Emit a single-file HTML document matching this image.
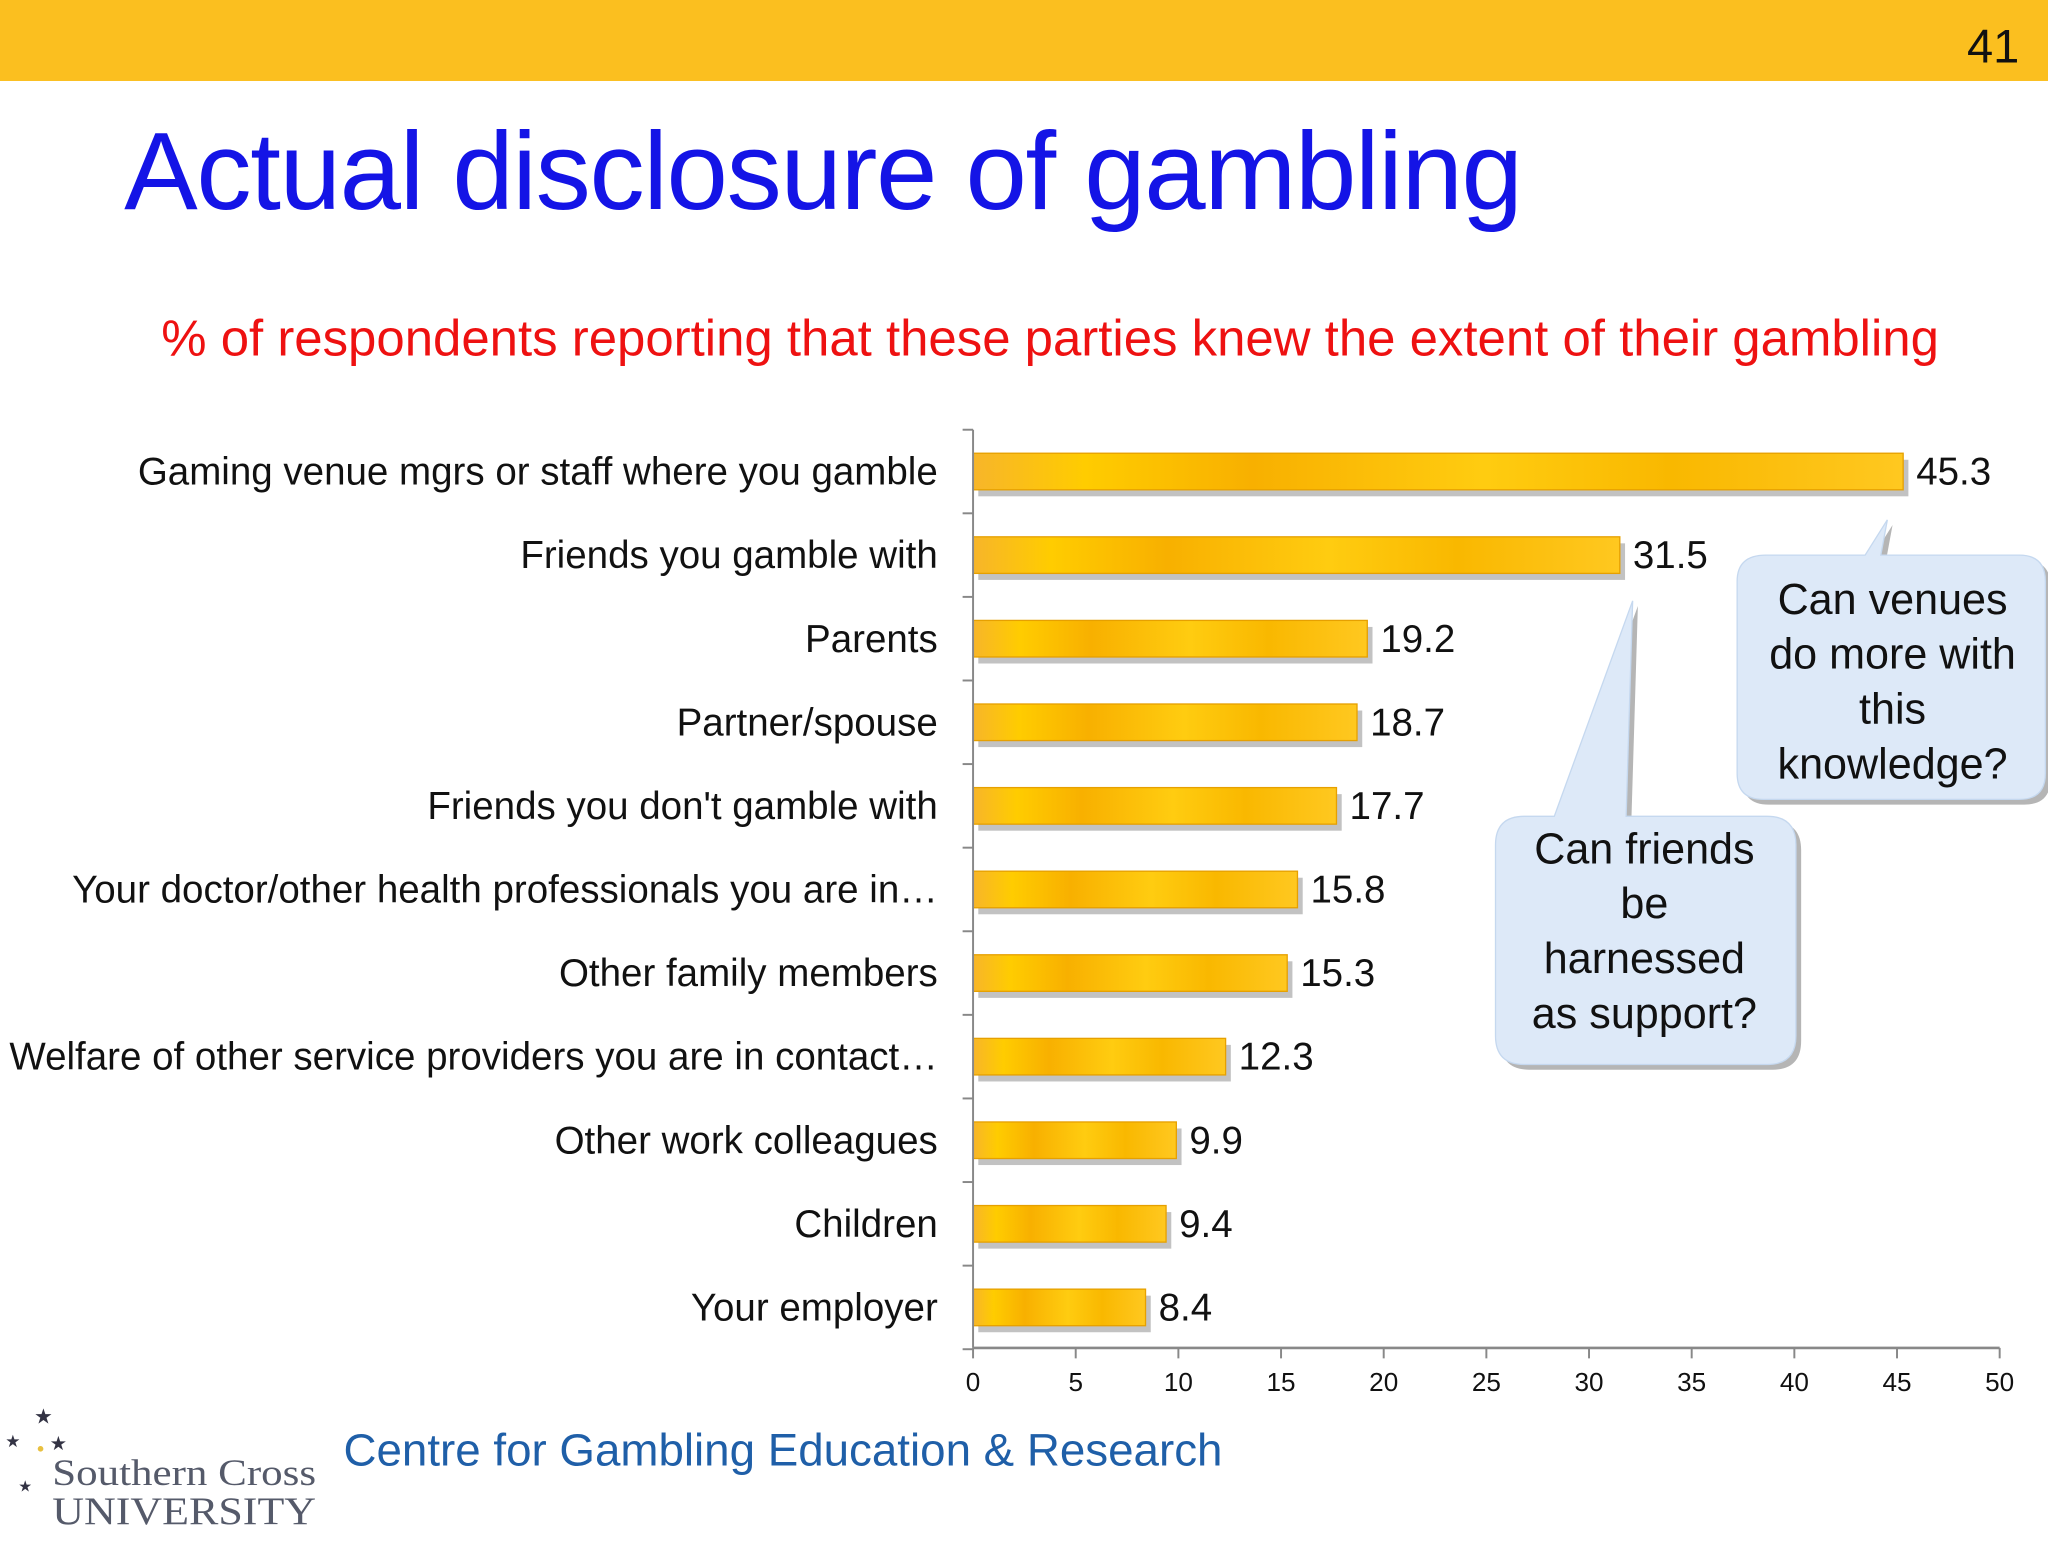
<!DOCTYPE html>
<html><head><meta charset="utf-8">
<style>
html,body{margin:0;padding:0;background:#fff;}
body{width:2048px;height:1536px;overflow:hidden;position:relative;font-family:"Liberation Sans",sans-serif;}
#wrap{position:absolute;left:0;top:0;width:1568px;height:1176px;transform:scale(1.30612);transform-origin:0 0;}
</style></head><body>
<div id="wrap">
<svg width="1568" height="1176" viewBox="0 0 1568 1176" xmlns="http://www.w3.org/2000/svg">
<defs>
<linearGradient id="bg" x1="0" y1="0" x2="1" y2="0">
<stop offset="0" stop-color="#f7b52a"/><stop offset="0.12" stop-color="#ffcc00"/><stop offset="0.3" stop-color="#f8b000"/><stop offset="0.55" stop-color="#ffcc10"/><stop offset="0.75" stop-color="#f9b800"/><stop offset="1" stop-color="#ffc820"/>
</linearGradient>
</defs>
<rect x="0" y="0" width="1568" height="62" fill="#fbbf1f"/>
<text x="1546" y="48" font-size="36" text-anchor="end" fill="#111">41</text>
<text x="95" y="160" font-size="84.5" fill="#1414e6" letter-spacing="-1">Actual disclosure of gambling</text>
<text x="804" y="272" font-size="39" fill="#ee1111" text-anchor="middle">% of respondents reporting that these parties knew the extent of their gambling</text>
<g id="chart"></g>
<g>
<path d="M1352,425 L1428,425 L1445,398 L1440,425 L1546,425 Q1566,425 1566,445 L1566,592 Q1566,612 1546,612 L1350,612 Q1330,612 1330,592 L1330,445 Q1330,425 1352,425 Z" fill="#6b6b6b" opacity="0.5" transform="translate(4,4)"/>
<path d="M1352,425 L1428,425 L1445,398 L1440,425 L1546,425 Q1566,425 1566,445 L1566,592 Q1566,612 1546,612 L1350,612 Q1330,612 1330,592 L1330,445 Q1330,425 1352,425 Z" fill="#dde9f8" stroke="#c5d8ef" stroke-width="1"/>
<text font-size="33" fill="#111" text-anchor="middle"><tspan x="1449" y="470">Can venues</tspan><tspan x="1449" y="512">do more with</tspan><tspan x="1449" y="554">this</tspan><tspan x="1449" y="596">knowledge?</tspan></text>
</g>
<g>
<path d="M1167,625 L1190,625 L1250,460 L1245,625 L1353,625 Q1375,625 1375,647 L1375,793 Q1375,815 1353,815 L1167,815 Q1145,815 1145,793 L1145,647 Q1145,625 1167,625 Z" fill="#6b6b6b" opacity="0.5" transform="translate(4,4)"/>
<path d="M1167,625 L1190,625 L1250,460 L1245,625 L1353,625 Q1375,625 1375,647 L1375,793 Q1375,815 1353,815 L1167,815 Q1145,815 1145,793 L1145,647 Q1145,625 1167,625 Z" fill="#dde9f8" stroke="#c5d8ef" stroke-width="1"/>
<text font-size="33" fill="#111" text-anchor="middle"><tspan x="1259" y="661">Can friends</tspan><tspan x="1259" y="703">be</tspan><tspan x="1259" y="745">harnessed</tspan><tspan x="1259" y="787">as support?</tspan></text>
</g>
<text x="263" y="1122" font-size="35" fill="#1f5fa8">Centre for Gambling Education &amp; Research</text>
<g>
<text x="26" y="1090" font-size="16" fill="#334">★</text>
<text x="4" y="1108" font-size="13" fill="#334">★</text>
<text x="38" y="1110" font-size="15" fill="#334">★</text>
<text x="28" y="1112" font-size="10" fill="#e8c040">●</text>
<text x="14" y="1142" font-size="12" fill="#334">★</text>
<text x="40" y="1137" font-size="28" fill="#555a6a" font-family="Liberation Serif,serif" textLength="202" lengthAdjust="spacingAndGlyphs">Southern Cross</text>
<text x="40" y="1167" font-size="30" fill="#555a6a" font-family="Liberation Serif,serif" textLength="202" lengthAdjust="spacingAndGlyphs">UNIVERSITY</text>
</g>
</svg>
</div>
<script>
const categories=["Gaming venue mgrs or staff where you gamble","Friends you gamble with","Parents","Partner/spouse","Friends you don't gamble with","Your doctor/other health professionals you are in\u2026","Other family members","Welfare of other service providers you are in contact\u2026","Other work colleagues","Children","Your employer"];
const values=[45.3,31.5,19.2,18.7,17.7,15.8,15.3,12.3,9.9,9.4,8.4];
const ticks=[0,5,10,15,20,25,30,35,40,45,50];
const NS="http://www.w3.org/2000/svg";
const g=document.getElementById('chart');
const x0=745,x1=1531,yTop=329,step=64;
const xs=v=>x0+(v-0)/(50-0)*(x1-x0);
const yc=i=>yTop+step/2+i*step;
function mk(t,a){const e=document.createElementNS(NS,t);for(const k in a)e.setAttribute(k,a[k]);g.appendChild(e);return e;}
categories.forEach((c,i)=>{
  const y=yc(i),v=values[i];
  const sh=mk('rect',{x:x0+4,y:y-14+5,width:xs(v)-x0,height:28,fill:'#9a9a9a',opacity:'0.6'});
  
  
  const r=mk('rect',{x:x0,y:y-14,width:xs(v)-x0,height:28,fill:'url(#bg)',stroke:'#e6a000','stroke-width':1});
  
  
  const l=mk('text',{x:718,y:y+10,'font-size':29.5,'text-anchor':'end',fill:'#111'});
  l.textContent=c;
  
  
  const vl=mk('text',{x:xs(v)+10,y:y+10,'font-size':29.5,fill:'#111'});
  vl.textContent=v.toFixed(1);
  
  
});
const ya=mk('line',{x1:x0,y1:yTop,x2:x0,y2:1032,stroke:'#888','stroke-width':1.5});


for(let i=0;i<=categories.length;i++){const t=mk('line',{x1:x0-8,y1:yTop+i*step,x2:x0,y2:yTop+i*step,stroke:'#888','stroke-width':1.5});}
const xa=mk('line',{x1:x0,y1:1032,x2:x1,y2:1032,stroke:'#888','stroke-width':2});


ticks.forEach(t=>{
  const tk=mk('line',{x1:xs(t),y1:1032,x2:xs(t),y2:1040,stroke:'#888','stroke-width':1.5});
  
  
  const tl=mk('text',{x:xs(t),y:1065,'font-size':20,'text-anchor':'middle',fill:'#111'});
  tl.textContent=t;
  
  
});
</script>
</body></html>
